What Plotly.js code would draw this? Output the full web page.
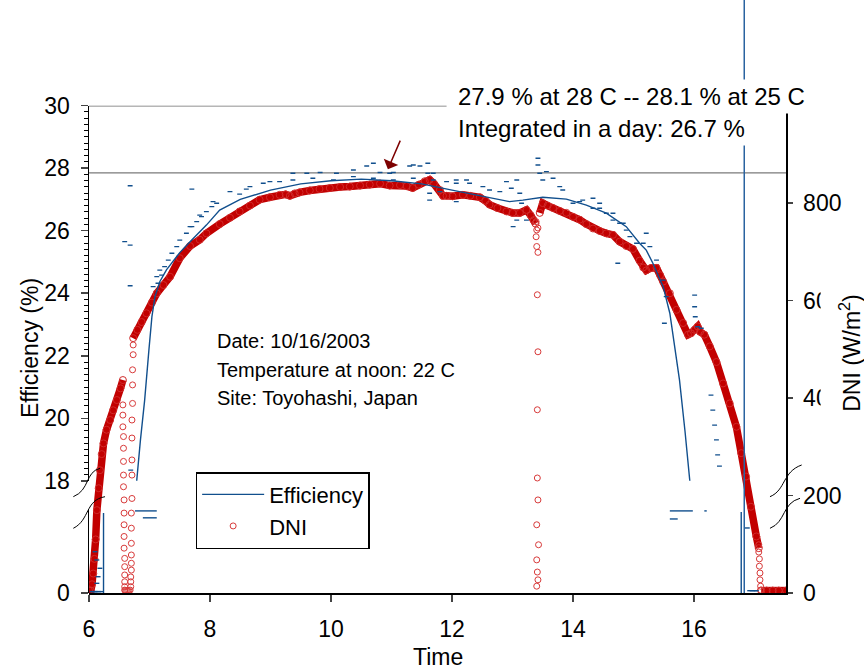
<!DOCTYPE html>
<html>
<head>
<meta charset="utf-8">
<script src="https://cdn.plot.ly/plotly-3.0.1.min.js"></script>
<style>html,body{margin:0;padding:0;background:#fff}#chart{width:864px;height:670px}</style>
</head>
<body>
<div id="chart"></div>
<script>
// ---------------- data ----------------
// DNI, dense part (W/m2), segments separated by null
const dniX = [6.00,6.03,6.05,6.07,6.09,6.11,6.13,6.16,6.18,6.21,6.24,6.29,6.35,6.40,6.46,6.52,6.56,null,
  6.73,6.80,6.87,6.95,7.04,7.12,7.23,7.34,7.50,7.67,7.83,7.94,8.16,8.33,8.49,8.66,8.82,8.99,9.15,9.25,9.32,9.40,9.48,9.65,9.81,9.98,10.15,10.31,10.48,10.64,10.81,10.97,11.14,11.25,11.35,11.45,11.55,11.63,11.70,11.80,11.85,11.91,12.01,12.18,12.30,12.46,12.55,12.62,12.75,12.90,13.00,13.12,13.23,13.30,13.35,13.38,null,
  13.45,13.50,13.58,13.67,13.78,13.89,14.00,14.11,14.22,14.33,14.44,14.55,14.66,14.77,14.88,14.99,15.10,15.16,15.21,15.29,15.38,15.44,15.49,15.60,15.71,15.82,15.90,15.95,16.01,16.06,16.10,16.17,16.26,16.37,16.48,16.59,16.70,16.78,16.86,16.94,17.03,17.07,null,
  17.11,17.20,17.30,17.40,17.52];
const dniY = [5,5,18,40,70,110,170,215,252,285,307,335,355,375,396,420,437,null,
  523,540,556,574,596,615,632,649,687,712,725,738,757,770,783,795,807,812,817,818,815,820,822,826,829,831,833,834,836,838,840,836,837,835,831,838,845,848,840,827,815,815,814,817,815,812,805,797,790,783,780,780,786,775,765,758,null,
  780,800,795,790,784,780,772,766,757,748,743,738,735,721,712,706,682,668,662,667,667,652,639,615,581,554,530,533,540,547,536,530,506,474,430,389,341,287,239,177,116,92,null,
  5,5,5,5,5];

// DNI, sparse open circles at the transitions
const dniSparseX = [6.56,6.56,6.56,6.57,6.57,6.57,6.57,6.57,6.58,6.58,6.58,6.58,6.58,6.59,6.59,6.59,6.59,6.59,6.59,
  6.60,6.62,6.64,6.66,6.68,
  6.69,6.69,6.69,6.70,6.70,6.70,6.70,6.70,6.70,6.71,6.71,6.71,6.71,6.71,6.72,6.72,6.72,6.73,6.73,
  13.39,13.40,13.42,13.39,13.40,13.42,13.41,13.42,13.41,13.41,13.42,13.40,13.43,13.40,13.41,13.42,13.40,
  17.07,17.07,17.08,17.08,17.09,17.09,17.10,17.10];
const dniSparseY = [386,365,341,321,297,270,242,218,191,164,140,116,92,71,54,37,23,13,6,
  5,5,5,5,6,
  13,23,33,47,61,78,102,133,164,194,242,273,318,355,389,427,458,489,509,
  762,745,749,731,711,699,612,495,376,236,191,140,99,68,43,27,14,
  99,84,70,55,41,27,14,6];

// Efficiency, fitted curve (%)
const effFitX = [6.77,6.79,6.85,6.92,6.99,7.04,7.09,7.17,7.28,7.39,7.50,7.67,7.94,8.16,8.50,9.00,9.50,10.00,10.50,11.00,11.50,12.00,12.50,12.95,13.17,13.50,13.89,14.22,14.55,14.88,15.10,15.21,15.32,15.49,15.60,15.68,15.76,15.85,15.93,15.96];
const effFitY = [17.4,18.03,19.3,20.58,22.18,23.25,23.89,24.37,24.75,25.01,25.3,25.65,26.18,26.66,27.0,27.3,27.5,27.6,27.65,27.6,27.5,27.3,27.1,26.93,26.98,27.07,27.01,26.82,26.56,26.13,25.6,25.38,24.96,24.21,23.36,22.29,21.22,19.6,18.03,17.4];

// Efficiency, measured points (%)
const effDataX = [6.59,6.68,6.68,6.68,6.69,7.70,
  7.06,7.12,7.14,7.17,7.20,7.25,7.31,7.37,7.45,7.50,7.61,7.67,7.70,7.78,7.83,7.86,7.94,8.03,8.05,8.11,8.33,8.49,8.60,8.66,8.88,8.99,9.15,
  9.37,9.37,9.60,9.70,9.82,10.04,10.09,10.37,10.37,10.59,10.70,10.70,10.81,10.97,11.03,11.03,11.30,11.36,11.36,11.47,11.60,11.60,11.63,11.63,11.69,11.69,11.80,11.91,
  12.07,12.07,12.07,12.24,12.29,12.51,12.62,12.79,12.90,12.98,13.01,13.07,13.07,13.12,13.15,13.23,
  13.42,13.42,13.45,13.50,13.56,13.67,13.78,13.83,14.00,14.11,14.16,14.33,14.33,14.44,14.44,14.55,14.66,14.66,14.74,14.77,14.83,14.88,14.94,15.05,15.16,15.21,15.27,15.38,15.49,15.51,15.54,
  16.01,16.01,16.02,16.06,16.12,16.28,16.31,16.34,16.37,16.39,16.42];
const effDataY = [25.65,25.54,24.24,27.44,18.34,27.33,
  24.21,24.53,24.32,24.74,24.58,24.85,25.06,25.28,25.49,25.70,25.92,26.13,26.13,26.29,26.50,26.45,26.61,26.77,26.93,26.88,27.25,27.17,27.33,27.41,27.52,27.57,27.57,
  27.84,27.62,27.84,27.68,27.86,27.62,27.84,27.94,27.73,28.07,28.16,27.68,27.86,27.84,27.86,27.62,28.07,28.10,27.68,28.07,28.16,27.84,27.20,26.98,27.84,27.62,27.25,27.57,
  27.52,27.62,26.93,27.62,27.52,27.41,27.30,27.25,27.57,27.36,26.13,27.62,26.34,27.20,26.88,26.34,
  28.32,28.10,27.84,27.62,27.89,27.68,27.41,27.30,26.88,26.93,26.98,26.72,27.04,26.88,26.72,26.56,26.34,26.56,24.96,26.24,26.24,26.02,25.81,25.60,25.60,25.92,25.49,25.06,24.42,23.04,23.89,
  23.94,23.57,23.25,22.93,22.88,20.74,20.26,19.78,19.31,18.83,18.47];

// Efficiency below the axis break (lower segment, %)
const effLowX = [6.24,6.24,null,6.76,7.12,null,6.89,7.12,null,15.60,15.98,null,16.17,16.21,null,15.60,15.73,null,16.78,16.78];
const effLowY = [0,17.35,null,17.8,17.8,null,16.3,16.3,null,17.8,17.8,null,17.8,17.8,null,16.05,16.05,null,0,17.57];
const effLowDotX = [6.10,6.13,6.18,6.15,6.13,6.10,6.05,6.08,6.12,6.16,6.20,16.88,16.92,16.96,17.00,17.03];
const effLowDotY = [8.95,7.16,5.36,3.53,2.1,0.3,0.3,0.3,0.3,0.3,0.3,14.1,0.5,0.5,0.5,0.5];

// Efficiency spike off the top of the chart
const effSpikeX = [16.83,16.83];
const effSpikeY = [0,130];

// axis ticks and reference values
const xTicks = [6,8,10,12,14,16];
const effTicks = [18,20,22,24,26,28,30];
const dniTicks = [0,200,400,600,800];
const refEff = 27.85;

// ---------------- styling ----------------
const BLUE = '#114f8d';
const RED = '#c20000';
const FONT = 'Liberation Sans, Arial, Helvetica, sans-serif';

const traces = [
  {x: dniX, y: dniY, xaxis:'x', yaxis:'y', mode:'lines+markers', connectgaps:false,
   line:{color:RED, width:7.5}, marker:{symbol:'circle-open', size:7, color:'#d02a2a', line:{width:1}},
   showlegend:false, hoverinfo:'skip'},
  {x: dniSparseX, y: dniSparseY, xaxis:'x', yaxis:'y', mode:'markers', name:'DNI',
   marker:{symbol:'circle-open', size:6, color:'#d83a3a', line:{width:1}}, legendrank:2},
  {x: effDataX, y: effDataY, xaxis:'x', yaxis:'y2', mode:'markers', showlegend:false,
   marker:{symbol:'line-ew', size:3.5, color:BLUE, line:{width:1.4, color:BLUE}}},
  {x: effFitX, y: effFitY, xaxis:'x', yaxis:'y2', mode:'lines', name:'Efficiency',
   line:{color:BLUE, width:1.4}, legendrank:1},
  {x: effLowX, y: effLowY, xaxis:'x', yaxis:'y3', mode:'lines', connectgaps:false, showlegend:false,
   line:{color:BLUE, width:1.4}},
  {x: effLowDotX, y: effLowDotY, xaxis:'x', yaxis:'y3', mode:'markers', showlegend:false,
   marker:{symbol:'line-ew', size:3.5, color:BLUE, line:{width:1.4, color:BLUE}}},
  {x: effSpikeX, y: effSpikeY, xaxis:'x', yaxis:'y4', mode:'lines', showlegend:false,
   line:{color:'#2a63a0', width:1.5}}
];

// paper: x 89..786 px, y 0..593 px
const P = (px, py) => [((px-89)/697).toFixed(4), ((593-py)/593).toFixed(4)];
function curve(a,b,c,d){const A=P(...a),B=P(...b),C=P(...c),D=P(...d);
  return `M${A[0]},${A[1]} C${B[0]},${B[1]} ${C[0]},${C[1]} ${D[0]},${D[1]}`;}
const breakStyle = {type:'path', xref:'paper', yref:'paper', line:{color:'black', width:1}, layer:'above'};

const layout = {
  width:864, height:670,
  margin:{l:89, r:78, t:0, b:77},
  paper_bgcolor:'white', plot_bgcolor:'rgba(0,0,0,0)',
  font:{family:FONT, size:23, color:'black'},
  showlegend:true,
  legend:{x:0.153, y:0.2040, xanchor:'left', yanchor:'top', bgcolor:'white',
    bordercolor:'black', borderwidth:1.5, font:{size:22}, itemwidth:62, tracegroupgap:0},
  xaxis:{domain:[0,1], range:[6,17.52], anchor:'y', tickvals:xTicks, ticks:'outside', ticklen:7, tickwidth:1.5,
    showline:true, linewidth:1.5, linecolor:'black', showgrid:false, zeroline:false, ticklabelstandoff:8},
  yaxis:{domain:[0,0.8218], range:[0,1000], anchor:'x', side:'right', tickvals:dniTicks, ticks:'outside',
    ticklen:5, tickwidth:1.5, showline:true, linewidth:1.5, linecolor:'black', showgrid:false, zeroline:false,
    ticklabelstandoff:6},
  yaxis2:{domain:[0.1892,0.8218], range:[18,30], anchor:'x', side:'left', tickvals:effTicks, ticks:'outside',
    ticklen:7, tickwidth:1.5, showline:true, linewidth:1.5, linecolor:'black', showgrid:false, zeroline:false,
    ticklabelstandoff:6, minor:{dtick:0.2, tick0:18, ticks:'outside', ticklen:4, tickwidth:1, tickcolor:'black'}},
  yaxis3:{domain:[0,0.14], range:[0,18], anchor:'x', side:'left', tickvals:[0], ticks:'outside',
    ticklen:7, tickwidth:1.5, showline:true, linewidth:1.5, linecolor:'black', showgrid:false, zeroline:false,
    ticklabelstandoff:6},
  yaxis4:{domain:[0,1], range:[0,128.6], anchor:'x', visible:false, showgrid:false, zeroline:false},
  shapes:[
    {type:'line', xref:'x', yref:'y2', x0:6, x1:17.52, y0:refEff, y1:refEff, line:{color:'#7a7a7a', width:1.2}, layer:'below'},
    {type:'line', xref:'x', yref:'y2', x0:6, x1:11.91, y0:30, y1:30, line:{color:'#6e6e6e', width:1.5}, layer:'below'},
    Object.assign({path:curve([73.3,496.7],[90,490],[85,472],[100,468.3])}, breakStyle),
    Object.assign({path:curve([73.3,528.3],[90,520],[85,500],[105,496.7])}, breakStyle),
    Object.assign({path:curve([770,496.7],[786,490],[782,472],[801.7,465])}, breakStyle),
    Object.assign({path:curve([770,528.3],[786,522],[782,503],[800,498.3])}, breakStyle)
  ],
  annotations:[
    {xref:'paper', yref:'paper', x:0.5, y:-0.108, text:'Time', showarrow:false,
     xanchor:'center', yanchor:'middle', font:{size:23}},
    {xref:'paper', yref:'paper', x:-0.0846, y:0.413, text:'Efficiency (%)', textangle:-90, showarrow:false,
     xanchor:'center', yanchor:'middle', font:{size:23}},
    {xref:'paper', yref:'paper', x:1.0918, y:0.405, text:'DNI (W/m<sup>2</sup>)', textangle:-90, showarrow:false,
     xanchor:'center', yanchor:'middle', font:{size:23}, bgcolor:'white', borderpad:14},
    {xref:'paper', yref:'paper', x:0.5236, y:0.838, text:'27.9 % at 28 C -- 28.1 % at 25 C', showarrow:false,
     xanchor:'left', yanchor:'middle', font:{size:24}, bgcolor:'white', borderpad:3},
    {xref:'paper', yref:'paper', x:0.5236, y:0.784, text:'Integrated in a day: 26.7 %', showarrow:false,
     xanchor:'left', yanchor:'middle', font:{size:24}, bgcolor:'white', borderpad:3},
    {xref:'paper', yref:'paper', x:0.1808, y:0.425, text:'Date: 10/16/2003', showarrow:false,
     xanchor:'left', yanchor:'middle', font:{size:20}},
    {xref:'paper', yref:'paper', x:0.1808, y:0.376, text:'Temperature at noon: 22 C', showarrow:false,
     xanchor:'left', yanchor:'middle', font:{size:20}},
    {xref:'paper', yref:'paper', x:0.1808, y:0.3288, text:'Site: Toyohashi, Japan', showarrow:false,
     xanchor:'left', yanchor:'middle', font:{size:20}},
    {xref:'x', yref:'y2', x:10.94, y:27.97, text:'', showarrow:true, ax:13, ay:-30,
     arrowhead:1, arrowsize:1.75, arrowwidth:1.5, arrowcolor:'#7d0000', standoff:0}
  ]
};

Plotly.newPlot('chart', traces, layout, {staticPlot:true, displayModeBar:false});
</script>
</body>
</html>
